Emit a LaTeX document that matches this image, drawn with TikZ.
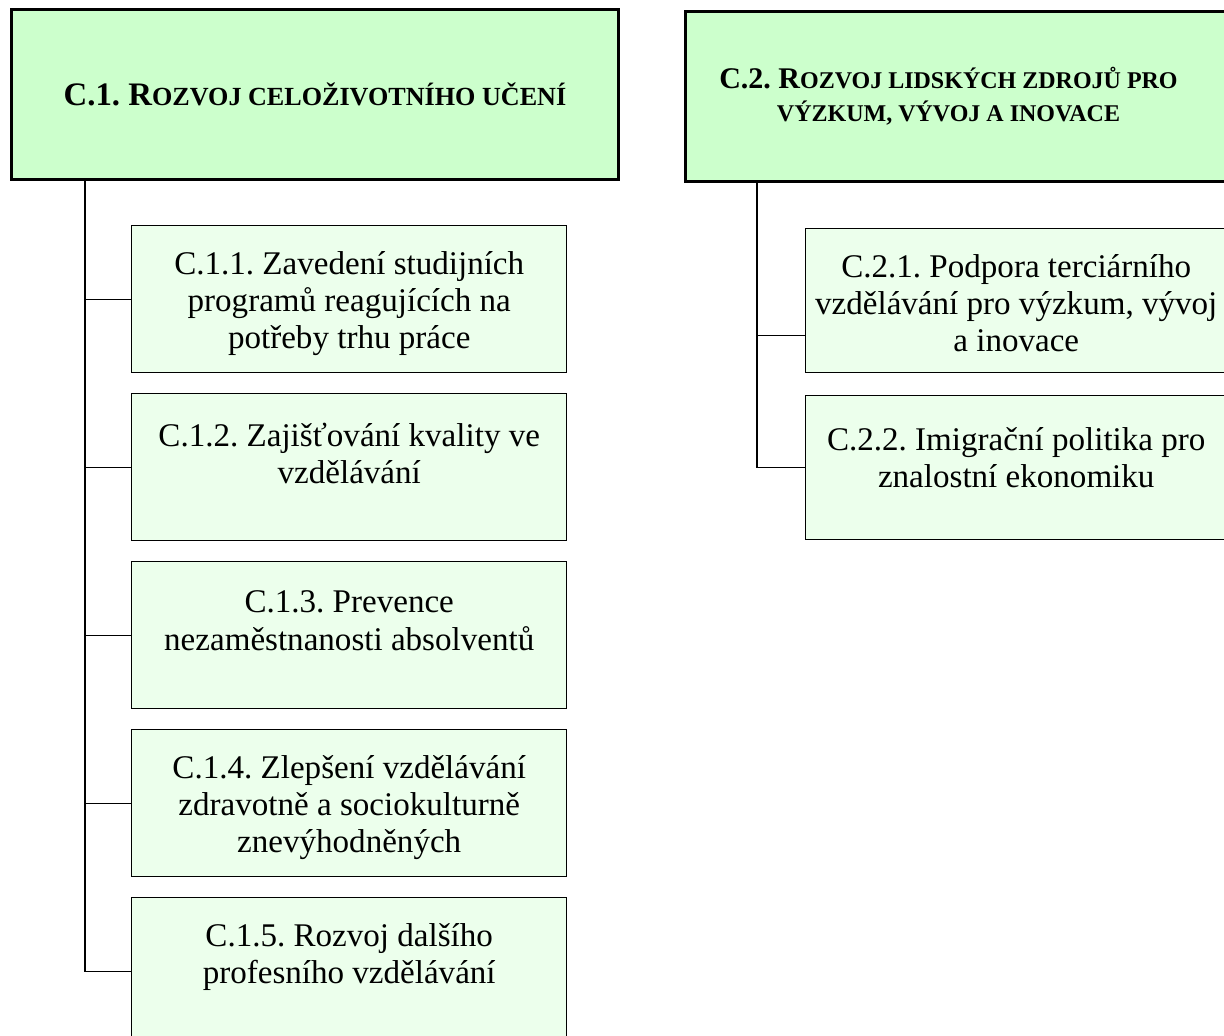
\documentclass[tikz,border=0pt]{standalone}
\usepackage{fontspec}
\setmainfont{Liberation Serif}
\frenchspacing
\newcommand{\smcap}[1]{{\fontsize{19.6}{24.75}\selectfont #1}}
\newcommand{\smcapii}[1]{{\fontsize{18}{24.75}\selectfont #1}}
\newcommand{\toptext}[3]{\parbox[c][#1][t]{#2}{\centering\vspace*{19pt}#3}}

\tikzset{every picture/.style={line width=0.75pt}}
\tikzset{
  headbox/.style={draw, line width=2.25pt, fill={rgb, 255:red, 204; green, 255; blue, 204}, anchor=north west, inner sep=0pt, align=center, font=\fontsize{24.6}{24.75}\selectfont\bfseries},
  subbox/.style={draw, line width=1.1pt, fill={rgb, 255:red, 236; green, 255; blue, 236}, anchor=north west, inner sep=0pt, font=\fontsize{24.8}{27.8}\selectfont},
  link/.style={line width=1.1pt}
}

\begin{document}
\begin{tikzpicture}[x=0.75pt,y=0.75pt,yscale=-1,xscale=1]
\useasboundingbox (0,0) rectangle (1224,1035);

%Rectangle: header C.1
\node[headbox, minimum width=455.25pt, minimum height=127.5pt] (h1) at (10,8) {C.1. R\smcap{OZVOJ CELOŽIVOTNÍHO UČENÍ}};
%Rectangle: C.1.1
\node[subbox] (c11) at (131,225) {\toptext{110.25pt}{326.25pt}{C.1.1. Zavedení studijních\\programů reagujících na\\potřeby trhu práce}};
%Rectangle: C.1.2
\node[subbox] (c12) at (131,393) {\toptext{110.25pt}{326.25pt}{\vspace*{3pt}C.1.2. Zajišťování kvality ve\\vzdělávání}};
%Rectangle: C.1.3
\node[subbox] (c13) at (131,561) {\toptext{110.25pt}{326.25pt}{\vspace*{3pt}C.1.3. Prevence\\nezaměstnanosti absolventů}};
%Rectangle: C.1.4
\node[subbox] (c14) at (131,729) {\toptext{110.25pt}{326.25pt}{C.1.4. Zlepšení vzdělávání\\zdravotně a sociokulturně\\znevýhodněných}};
%Rectangle: C.1.5
\node[subbox] (c15) at (131,897) {\toptext{110.25pt}{326.25pt}{C.1.5. Rozvoj dalšího\\profesního vzdělávání}};

%Straight Lines: trunk C.1
\draw[link] (h1.south west) ++(75,0) coordinate (t1) |- (c15.west);
\draw[link] (c11.west) -- (c11.west -| t1);
\draw[link] (c12.west) -- (c12.west -| t1);
\draw[link] (c13.west) -- (c13.west -| t1);
\draw[link] (c14.west) -- (c14.west -| t1);

%Rectangle: header C.2
\node[headbox, minimum width=406.5pt, minimum height=127.5pt, font=\fontsize{22.5}{24.75}\selectfont\bfseries] (h2) at (684,10) {C.2. R\smcapii{OZVOJ LIDSKÝCH ZDROJŮ PRO}\hspace*{12pt}\\\smcapii{VÝZKUM, VÝVOJ A INOVACE}\hspace*{12pt}};
%Rectangle: C.2.1
\node[subbox] (c21) at (805,228) {\toptext{108pt}{315.75pt}{C.2.1. Podpora terciárního\\vzdělávání pro výzkum, vývoj\\a inovace}};
%Rectangle: C.2.2
\node[subbox] (c22) at (805,395) {\toptext{108pt}{315.75pt}{\vspace*{5pt}C.2.2. Imigrační politika pro\\znalostní ekonomiku}};

%Straight Lines: trunk C.2
\draw[link] (h2.south west) ++(73,0) coordinate (t2) |- (c22.west);
\draw[link] (c21.west) ++(0,35) coordinate (j21) -- (j21 -| t2);

\end{tikzpicture}
\end{document}
